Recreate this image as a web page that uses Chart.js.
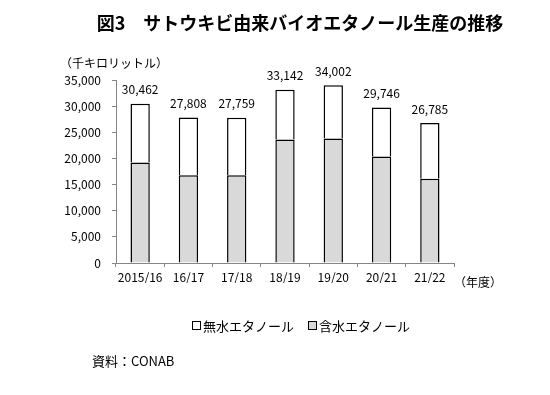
<!DOCTYPE html>
<html>
<head>
<meta charset="utf-8">
<script src="https://cdn.jsdelivr.net/npm/chart.js@4/dist/chart.umd.min.js"></script>
<style>
html,body{margin:0;padding:0;background:#fff;}
#wrap{width:550px;height:395px;position:relative;}
</style>
</head>
<body>
<div id="wrap"><canvas id="c" width="550" height="395"></canvas></div>
<script>
const categories = ['2015/16','16/17','17/18','18/19','19/20','20/21','21/22'];
const totals = [30462, 27808, 27759, 33142, 34002, 29746, 26785];
const hydrous = [19240, 16760, 16760, 23620, 23810, 20380, 16110];
const anhydrous = [11222, 11048, 10999, 9522, 10192, 9366, 10675];
const yTicks = [0, 5000, 10000, 15000, 20000, 25000, 30000, 35000];
const seriesNames = ['無水エタノール', '含水エタノール'];
const titleText = '図3　サトウキビ由来バイオエタノール生産の推移';
const unitText = '（千キロリットル）';
const xUnitText = '（年度）';
const sourceText = '資料：CONAB';

const FONT = '"Noto Sans CJK JP", "Noto Sans", sans-serif';
const fmt = v => v.toLocaleString('en-US');

const textPlugin = {
  id: 'texts',
  afterDraw(chart) {
    const ctx = chart.ctx;
    ctx.save();
    ctx.fillStyle = '#000';
    // title
    ctx.font = 'bold 18px ' + FONT;
    ctx.textAlign = 'center';
    ctx.textBaseline = 'middle';
    ctx.fillText(titleText, 300, 23);
    // unit
    ctx.font = '12px ' + FONT;
    ctx.textAlign = 'left';
    ctx.fillText(unitText, 60, 63);
    // x unit
    ctx.fillText(xUnitText, 454, 282);
    // data labels
    const meta = chart.getDatasetMeta(1);
    ctx.textAlign = 'center';
    ctx.textBaseline = 'middle';
    ctx.font = '12px ' + FONT;
    meta.data.forEach((el, i) => {
      ctx.fillText(fmt(totals[i]), el.x, el.y - 14);
    });
    // legend
    ctx.font = '13px ' + FONT;
    ctx.textAlign = 'left';
    ctx.textBaseline = 'middle';
    const items = [
      {x: 192, color: '#ffffff', text: seriesNames[0]},
      {x: 308, color: '#d9d9d9', text: seriesNames[1]}
    ];
    items.forEach(it => {
      ctx.fillStyle = it.color;
      ctx.fillRect(it.x, 321.5, 8, 8);
      ctx.strokeStyle = '#000';
      ctx.lineWidth = 1;
      ctx.strokeRect(it.x + 0.5, 321.5, 8, 8);
      ctx.fillStyle = '#000';
      ctx.fillText(it.text, it.x + 11, 326);
    });
    // source
    ctx.font = '13px ' + FONT;
    ctx.fillText(sourceText, 92, 361);
    ctx.restore();
  }
};

new Chart(document.getElementById('c'), {
  type: 'bar',
  data: {
    labels: categories,
    datasets: [
      {
        label: seriesNames[1],
        data: hydrous,
        backgroundColor: '#d9d9d9',
        borderColor: '#000',
        borderWidth: 1.5,
        categoryPercentage: 1,
        barPercentage: 0.4
      },
      {
        label: seriesNames[0],
        data: anhydrous,
        backgroundColor: '#ffffff',
        borderColor: '#000',
        borderWidth: 1.5,
        categoryPercentage: 1,
        barPercentage: 0.4
      }
    ]
  },
  options: {
    responsive: false,
    animation: false,
    layout: { padding: { top: 80, left: 0, right: 96, bottom: 112 } },
    plugins: {
      legend: { display: false },
      title: { display: false },
      tooltip: { enabled: false }
    },
    scales: {
      x: {
        stacked: true,
        offset: true,
        afterFit(s) { s.height = 20; },
        grid: { display: true, drawOnChartArea: false, drawTicks: true, tickLength: 4, color: '#868686', offset: true },
        border: { display: true, color: '#868686', width: 1 },
        ticks: { color: '#000', font: { family: FONT, size: 12 }, padding: 3, maxRotation: 0 }
      },
      y: {
        stacked: true,
        min: 0,
        max: 35000,
        afterFit(s) { s.width = 116; },
        afterBuildTicks(s) { s.ticks = yTicks.map(v => ({ value: v })); },
        grid: { display: true, drawOnChartArea: false, drawTicks: true, tickLength: 4, color: '#868686' },
        border: { display: true, color: '#868686', width: 1 },
        ticks: { color: '#000', font: { family: FONT, size: 12 }, padding: 11, callback: v => fmt(v) }
      }
    }
  },
  plugins: [textPlugin]
});
</script>
</body>
</html>
